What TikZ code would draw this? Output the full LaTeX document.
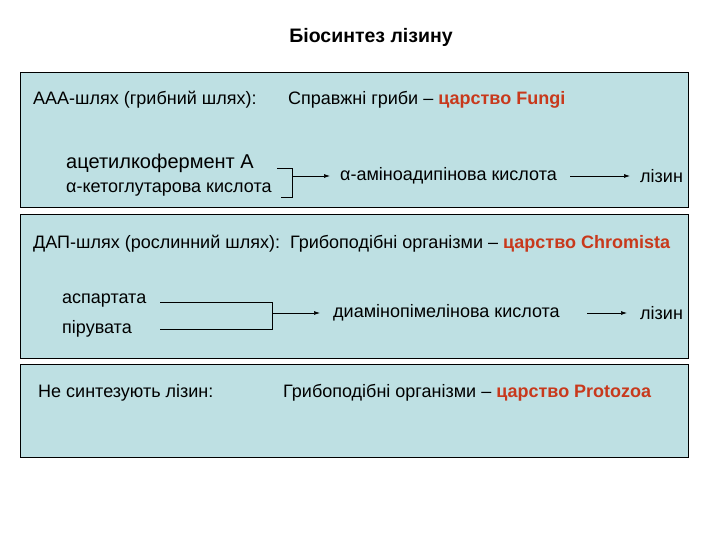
\documentclass[tikz,border=0pt]{standalone}
\usepackage{fontspec}
\setmainfont{Liberation Sans}
\begin{document}
\begin{tikzpicture}[x=1pt,y=-1pt,
  box/.style={draw=black,fill=boxc,line width=0.9pt},
  txt/.style={anchor=west,inner sep=0pt,font=\fontsize{18}{21}\selectfont},
  ln/.style={line width=0.7pt},
  arr/.style={ln,-{Latex[length=6pt,width=4pt]}}]
\usetikzlibrary{arrows.meta}
\definecolor{boxc}{HTML}{BEE0E3}
\definecolor{redc}{HTML}{C8391C}
\newcommand{\kingdom}[1]{\textcolor{redc}{\textbf{#1}}}
\useasboundingbox (0,0) rectangle (720,540);
\node[font=\fontsize{19.5}{22}\selectfont\bfseries] (title) at (371,37) {Біосинтез лізину};
\draw[box] (20,72) rectangle (688,207);
\draw[box] (20,214) rectangle (688,358);
\draw[box] (20,364) rectangle (688,457);
% box 1
\node[txt] (a1) at (33,100) {ААА-шлях (грибний шлях):};
\node[txt] (a2) at (288,100) {Справжні гриби – \kingdom{царство Fungi}};
\node[txt,font=\fontsize{20}{23}\selectfont] (acet) at (66,163) {ацетилкофермент А};
\node[txt] (keto) at (66,190) {α-кетоглутарова кислота};
\coordinate (j1) at (292,176);
\coordinate (s1) at (570,176);
\node[txt] (aad) at (340,176) {α-аміноадипінова кислота};
\node[txt] (lys1) at (640,176) {лізин};
\draw[ln] (277,168) -- (292,168) -- (292,197) -- (281,197);
\draw[arr] (j1) -- (330,176);
\draw[arr] (s1) -- (630,176);
% box 2
\node[txt] (b1) at (33,244) {ДАП-шлях (рослинний шлях):\ \ Грибоподібні організми – \kingdom{царство Chromista}};
\node[txt] (asp) at (62,301) {аспартата};
\node[txt] (pir) at (62,329) {пірувата};
\coordinate (j2) at (272,313);
\coordinate (s2) at (587,313);
\node[txt] (dap) at (333,313) {диамінопімелінова кислота};
\node[txt] (lys2) at (640,313) {лізин};
\draw[ln] (160,302) -- (272,302) -- (272,329) -- (160,329);
\draw[arr] (j2) -- (320,313);
\draw[arr] (s2) -- (627,313);
% box 3
\node[txt] (c1) at (38,393) {Не синтезують лізин:};
\node[txt] (c2) at (283,393) {Грибоподібні організми – \kingdom{царство Protozoa}};
\end{tikzpicture}
\end{document}
